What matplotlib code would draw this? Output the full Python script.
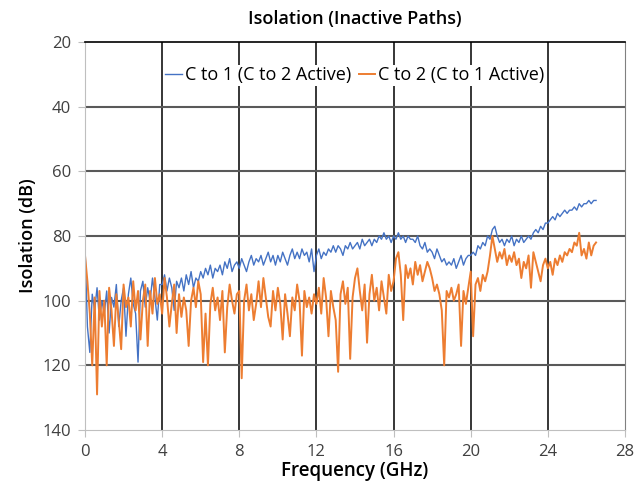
import numpy as np
import matplotlib
matplotlib.use("Agg")
from matplotlib import pyplot as plt

plt.rcParams['font.family'] = ['Open Sans', 'DejaVu Sans']

# frequency step of the sweep (GHz)
step = 0.125

# C to 1 (C to 2 Active), dB, one row per GHz
c_to_1 = [
    83, 108, 116, 98, 103, 96, 106, 100,
    104, 97, 110, 99, 102, 95, 108, 100,
    96, 111, 98, 93, 101, 104, 119, 97,
    94, 102, 96, 100, 93, 99, 106, 95,
    95, 92, 97, 93, 96, 103, 94, 96,
    93, 97, 92, 95, 91, 96, 93, 94,
    91, 93, 90, 92, 89, 93, 90, 91,
    89, 92, 88, 90, 87, 91, 89, 88,
    90, 87, 89, 91, 88, 86, 89, 87,
    88, 86, 89, 87, 85, 88, 86, 89,
    86, 88, 85, 87, 89, 86, 84, 87,
    85, 87, 84, 86, 85, 88, 84, 91,
    86, 84, 87, 85, 86, 84, 85, 83,
    85, 83, 84, 86, 83, 84, 82, 84,
    83, 82, 84, 81, 83, 82, 81, 83,
    81, 82, 80, 81, 79, 81, 80, 82,
    80, 81, 79, 81, 80, 82, 80, 81,
    81, 82, 80, 83, 84, 82, 85, 84,
    85, 87, 84, 86, 88, 87, 89, 88,
    89, 87, 90, 88, 86, 89, 87, 86,
    86, 85, 86, 83, 84, 82, 83, 80,
    81, 78, 77, 80, 82, 81, 83, 81,
    82, 80, 83, 81, 82, 80, 82, 81,
    80, 81, 79, 78, 79, 77, 78, 76,
    76, 75, 74, 75, 73, 74, 73, 72,
    73, 72, 72, 71, 72, 70, 71, 70,
    70, 69, 70, 69, 69,
]

# C to 2 (C to 1 Active), dB
c_to_2 = [
    86, 94, 104, 120, 99, 129, 97, 108,
    100, 120, 96, 103, 114, 98, 106, 115,
    95, 102, 99, 108, 94, 103, 97, 112,
    100, 95, 114, 97, 104, 93, 101, 98,
    104, 93, 99, 108, 101, 95, 110, 98,
    105, 99, 103, 114, 100, 96, 102, 94,
    98, 119, 104, 120, 101, 96, 103, 99,
    106, 97, 116, 102, 95, 100, 104, 98,
    97, 124, 100, 95, 103, 98, 106, 101,
    94, 102, 93, 99, 105, 108, 97, 103,
    96, 101, 112, 98, 104, 111, 99, 103,
    95, 100, 117, 97, 102, 99, 104, 98,
    101, 96, 104, 93, 99, 111, 97, 102,
    106, 122, 98, 94, 101, 96, 118, 99,
    93, 90, 97, 103, 95, 113, 98, 92,
    100, 96, 103, 94, 99, 104, 92, 97,
    94, 87, 85, 92, 106, 89, 93, 90,
    95, 88, 92, 89, 94, 91, 88, 90,
    93, 97, 95, 98, 103, 120, 97, 99,
    96, 100, 98, 95, 114, 97, 101, 96,
    91, 111, 95, 93, 97, 92, 94, 91,
    86, 80, 84, 88, 85, 87, 84, 89,
    86, 88, 85, 89, 87, 93, 88, 90,
    86, 96, 85, 88, 91, 94, 89, 87,
    90, 88, 92, 87, 89, 86, 88, 85,
    86, 84, 85, 82, 83, 79, 86, 84,
    87, 82, 86, 83, 82,
]

freq = np.arange(len(c_to_1)) * step

fig = plt.figure(figsize=(6.42, 4.95), dpi=100)
ax = fig.add_axes([0.1324, 0.1313, 0.8411, 0.7838])

ax.plot(freq, c_to_1, color='#4472C4', lw=1.0, label='C to 1 (C to 2 Active)')
ax.plot(freq, c_to_2, color='#ED7D31', lw=1.4, label='C to 2 (C to 1 Active)')

ax.set_xlim(0, 28)
ax.set_ylim(140, 20)
ax.set_xticks(range(0, 29, 4))
ax.set_yticks(range(20, 141, 20))

for x in range(4, 28, 4):
    ax.axvline(x, color='black', lw=1.1, zorder=0)
for y in range(40, 140, 20):
    ax.axhline(y, color='#595959', lw=1.5, zorder=0)

ax.spines['top'].set_color('black')
ax.spines['top'].set_linewidth(1.2)
ax.spines['right'].set_color('#808080')
ax.spines['left'].set_color('#BFBFBF')
ax.spines['bottom'].set_color('#BFBFBF')
ax.tick_params(colors='#BFBFBF', labelcolor='#404040', labelsize=12, length=5, pad=5)

ax.set_title('Isolation (Inactive Paths)', fontsize=13, fontweight='semibold', pad=13)
ax.set_xlabel('Frequency (GHz)', fontsize=13.5, fontweight='semibold', labelpad=1)
ax.set_ylabel('Isolation (dB)', fontsize=13, fontweight='semibold', labelpad=4)

leg = ax.legend(loc='center', bbox_to_anchor=(0.5, 0.914), ncol=2, frameon=True,
                fontsize=13, handlelength=0.9, handletextpad=0.2, columnspacing=0.4,
                borderaxespad=0, borderpad=0.1, fancybox=False)
leg.get_frame().set_facecolor('white')
leg.get_frame().set_edgecolor('none')
leg.get_frame().set_alpha(1)

fig.savefig('out.png', dpi=100)
